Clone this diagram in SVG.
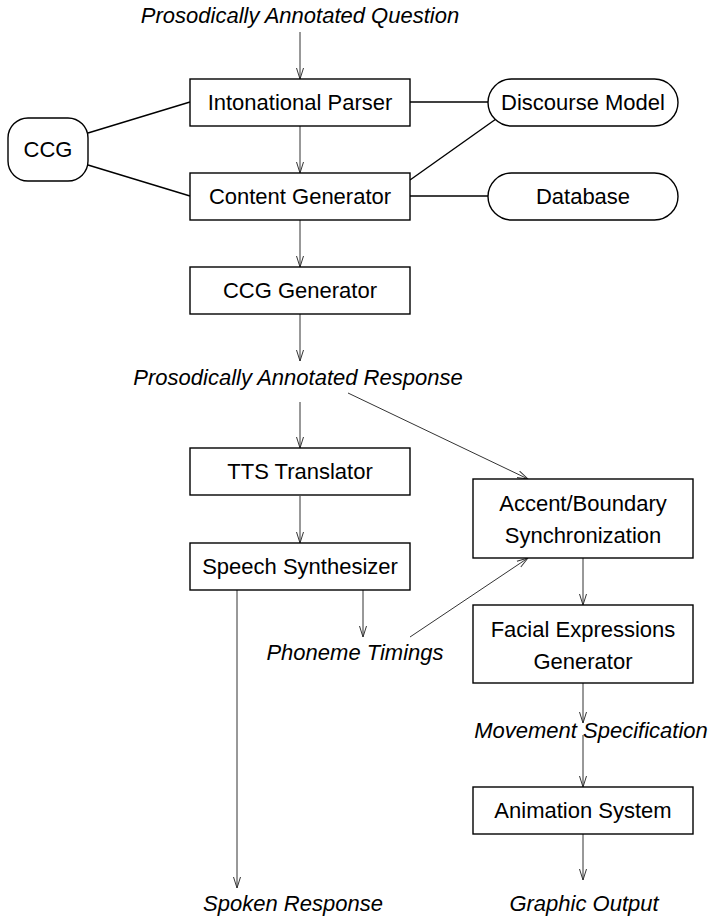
<svg xmlns="http://www.w3.org/2000/svg" width="709" height="918" viewBox="0 0 709 918">
<style>
.box{fill:#fff;stroke:#000;stroke-width:1.4}
.t{font-family:"Liberation Sans",Arial,sans-serif;font-size:22px;fill:#000;text-anchor:middle}
.i{font-style:italic}
.c{stroke:#333;stroke-width:1;fill:none}
.l{stroke:#000;stroke-width:1.4;fill:none}
</style>
<defs>
<marker id="a" markerUnits="userSpaceOnUse" markerWidth="12" markerHeight="10" refX="11" refY="4" orient="auto" viewBox="0 0 12 8">
<path d="M0,0.5 L11,4 L0,7.5" fill="none" stroke="#333" stroke-width="1"/>
</marker>
</defs>
<g id="connectors">
<line class="c" x1="300" y1="32" x2="300" y2="79" marker-end="url(#a)"/>
<line class="c" x1="300" y1="126" x2="300" y2="173" marker-end="url(#a)"/>
<line class="c" x1="300" y1="220" x2="300" y2="267" marker-end="url(#a)"/>
<line class="c" x1="300" y1="314" x2="300" y2="361" marker-end="url(#a)"/>
<line class="c" x1="300" y1="402" x2="300" y2="448" marker-end="url(#a)"/>
<line class="c" x1="300" y1="496" x2="300" y2="543" marker-end="url(#a)"/>
<line class="c" x1="348" y1="393" x2="528" y2="479" marker-end="url(#a)"/>
<line class="c" x1="237" y1="590" x2="237" y2="888" marker-end="url(#a)"/>
<line class="c" x1="363" y1="590" x2="363" y2="637" marker-end="url(#a)"/>
<line class="c" x1="410" y1="637" x2="528" y2="558" marker-end="url(#a)"/>
<line class="c" x1="583" y1="558" x2="583" y2="605" marker-end="url(#a)"/>
<line class="c" x1="583" y1="683" x2="583" y2="723" marker-end="url(#a)"/>
<line class="c" x1="583" y1="735" x2="583" y2="787" marker-end="url(#a)"/>
<line class="c" x1="583" y1="833" x2="583" y2="880" marker-end="url(#a)"/>
<line class="l" x1="88" y1="133" x2="190" y2="102"/>
<line class="l" x1="88" y1="165" x2="190" y2="196"/>
<line class="l" x1="410" y1="102" x2="488" y2="102"/>
<line class="l" x1="410" y1="180" x2="496" y2="119"/>
<line class="l" x1="410" y1="196" x2="488" y2="196"/>
</g>
<g id="q"><text class="t i" x="300" y="23">Prosodically Annotated Question</text></g>
<g id="ip"><rect class="box" x="190" y="79" width="220" height="47"/><text class="t" x="300" y="110">Intonational Parser</text></g>
<g id="cg"><rect class="box" x="190" y="173" width="220" height="47"/><text class="t" x="300" y="204">Content Generator</text></g>
<g id="ccg"><rect class="box" x="8" y="118" width="80" height="63" rx="20"/><text class="t" x="48" y="157">CCG</text></g>
<g id="dm"><rect class="box" x="488" y="79" width="190" height="47" rx="23.5"/><text class="t" x="583" y="110">Discourse Model</text></g>
<g id="db"><rect class="box" x="488" y="173" width="190" height="47" rx="23.5"/><text class="t" x="583" y="204">Database</text></g>
<g id="ccggen"><rect class="box" x="190" y="267" width="220" height="47"/><text class="t" x="300" y="298">CCG Generator</text></g>
<g id="resp"><text class="t i" x="298" y="385">Prosodically Annotated Response</text></g>
<g id="tts"><rect class="box" x="190" y="448" width="220" height="47"/><text class="t" x="300" y="479">TTS Translator</text></g>
<g id="ss"><rect class="box" x="190" y="543" width="220" height="47"/><text class="t" x="300" y="574">Speech Synthesizer</text></g>
<g id="pt"><text class="t i" x="355" y="660">Phoneme Timings</text></g>
<g id="abs"><rect class="box" x="473" y="479" width="220" height="79"/><text class="t" x="583" y="511">Accent/Boundary</text><text class="t" x="583" y="543">Synchronization</text></g>
<g id="feg"><rect class="box" x="473" y="605" width="220" height="78"/><text class="t" x="583" y="637">Facial Expressions</text><text class="t" x="583" y="669">Generator</text></g>
<g id="ms"><text class="t i" x="591" y="738">Movement Specification</text></g>
<g id="as"><rect class="box" x="473" y="787" width="220" height="47"/><text class="t" x="583" y="818">Animation System</text></g>
<g id="sr"><text class="t i" x="293" y="911">Spoken Response</text></g>
<g id="go"><text class="t i" x="584" y="911">Graphic Output</text></g>
</svg>
